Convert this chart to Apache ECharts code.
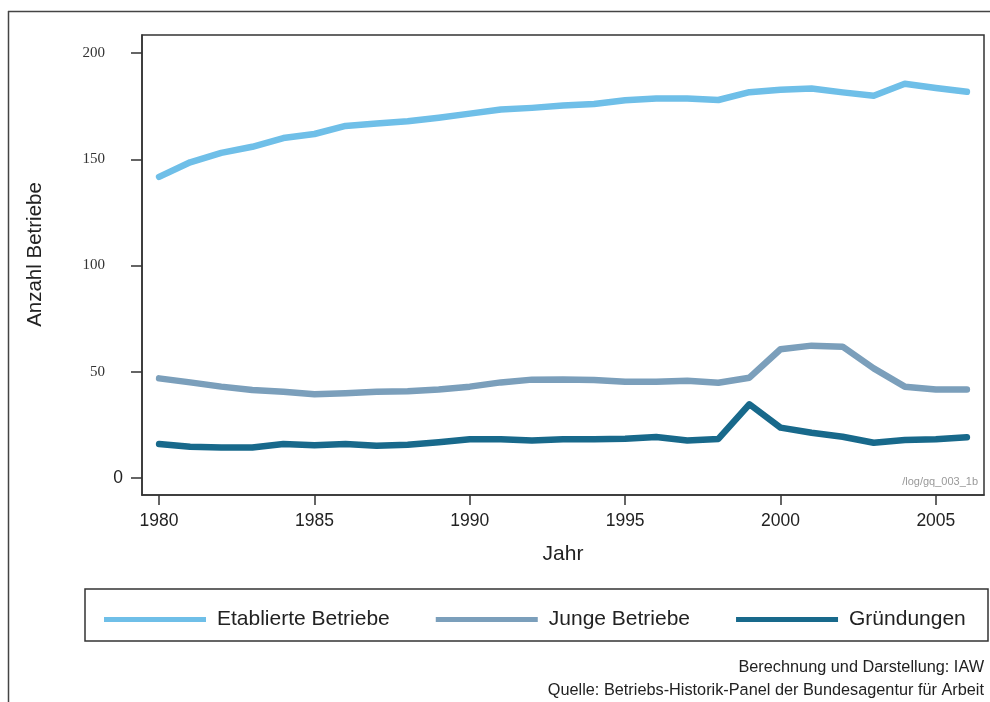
<!DOCTYPE html>
<html>
<head>
<meta charset="utf-8">
<script src="https://cdn.jsdelivr.net/npm/echarts@6/dist/echarts.min.js"></script>
<style>html,body{margin:0;padding:0;background:#fff}#c{width:990px;height:702px}</style>
</head>
<body>
<div id="c"></div>
<script>
const years = [1980,1981,1982,1983,1984,1985,1986,1987,1988,1989,1990,1991,1992,1993,1994,1995,1996,1997,1998,1999,2000,2001,2002,2003,2004,2005,2006];
const etablierte = [141.7,148.6,153.0,155.9,160.0,161.9,165.7,166.8,167.9,169.6,171.5,173.4,174.2,175.3,176.0,177.8,178.6,178.6,177.9,181.6,182.7,183.3,181.5,179.9,185.6,183.6,181.8];
const junge = [46.9,45.0,43.0,41.4,40.6,39.4,39.9,40.6,40.8,41.7,43.0,45.0,46.3,46.4,46.1,45.3,45.3,45.8,44.8,47.2,60.6,62.3,61.8,51.6,43.0,41.7,41.7];
const gruendungen = [16.0,14.7,14.3,14.4,16.0,15.4,16.0,15.2,15.7,16.8,18.2,18.2,17.7,18.2,18.2,18.5,19.3,17.7,18.4,34.7,23.7,21.3,19.4,16.6,17.9,18.2,19.2];
const seriesNames = ['Etablierte Betriebe','Junge Betriebe','Gründungen'];
const seriesColors = ['#6fbfe8','#7b9fbb','#18698b'];
const xTicks = [1980,1985,1990,1995,2000,2005];
const yTicks = [0,50,100,150,200];
const xTitle = 'Jahr';
const yTitle = 'Anzahl Betriebe';
const watermark = '/log/gq_003_1b';
const footer1 = 'Berechnung und Darstellung: IAW';
const footer2 = 'Quelle: Betriebs-Historik-Panel der Bundesagentur für Arbeit';

const pairs = arr => years.map((y,i)=>[y,arr[i]]);
const allData = [etablierte, junge, gruendungen];

const chart = echarts.init(document.getElementById('c'), null, {renderer:'canvas'});
const sans = 'Liberation Sans';
chart.setOption({
  animation:false,
  backgroundColor:'#fff',
  grid:{left:142, top:35, right:6, bottom:207, show:true, borderColor:'#333', borderWidth:1.5, backgroundColor:'#fff'},
  xAxis:{
    type:'value', min:1979.45, max:2006.55,
    name:xTitle, nameLocation:'middle', nameGap:49,
    nameTextStyle:{fontFamily:sans, fontSize:21, color:'#222'},
    axisLine:{show:true, onZero:false, lineStyle:{color:'#333', width:1.5}},
    axisTick:{show:true, length:10, lineStyle:{color:'#333', width:1.5}, customValues:xTicks},
    axisLabel:{customValues:xTicks, margin:17, fontFamily:sans, fontSize:17.5, color:'#222', formatter:v=>String(v)},
    splitLine:{show:false}
  },
  yAxis:{
    type:'value', min:-8, max:208.5,
    name:yTitle, nameLocation:'middle', nameGap:96, nameRotate:90,
    nameTextStyle:{fontFamily:sans, fontSize:20.5, color:'#222', padding:[0,0,0,21]},
    axisLine:{show:true, onZero:false, lineStyle:{color:'#333', width:1.5}},
    axisTick:{show:true, length:11, lineStyle:{color:'#333', width:1.5}, customValues:yTicks},
    axisLabel:{customValues:yTicks, margin:19, color:'#222',
      formatter:v=> v===0 ? '{z|0}' : '{s|'+v+'}',
      rich:{
        z:{fontFamily:sans, fontSize:17.5, color:'#222'},
        s:{fontFamily:'Liberation Serif', fontSize:15, color:'#333', padding:[0,18,0,0]}
      }},
    splitLine:{show:false}
  },
  legend:{
    show:true, left:99, top:604, icon:'rect', itemWidth:102, itemHeight:5, itemGap:46,
    textStyle:{fontFamily:sans, fontSize:21, color:'#222', padding:[0,0,0,6]},
    data:seriesNames
  },
  series: allData.map((d,i)=>({
    name:seriesNames[i], type:'line', data:pairs(d), showSymbol:false, symbol:'none',
    color:seriesColors[i],
    lineStyle:{width:6.5, color:seriesColors[i], cap:'round', join:'round'}
  })),
  graphic:[
    {type:'line', shape:{x1:8.5,y1:11,x2:8.5,y2:702}, style:{stroke:'#444', lineWidth:1.5}},
    {type:'line', shape:{x1:8,y1:11.5,x2:990,y2:11.5}, style:{stroke:'#444', lineWidth:1.5}},
    {type:'rect', shape:{x:85, y:589, width:903, height:52}, style:{fill:'none', stroke:'#333', lineWidth:1.5}},
    {type:'text', right:12, top:476, style:{text:watermark, font:'11px "Liberation Sans"', fill:'#999'}},
    {type:'text', right:6, top:660, style:{text:footer1, font:'16.3px "Liberation Sans"', fill:'#222'}},
    {type:'text', right:6, top:683, style:{text:footer2, font:'16.3px "Liberation Sans"', fill:'#222'}}
  ]
});
</script>
</body>
</html>
